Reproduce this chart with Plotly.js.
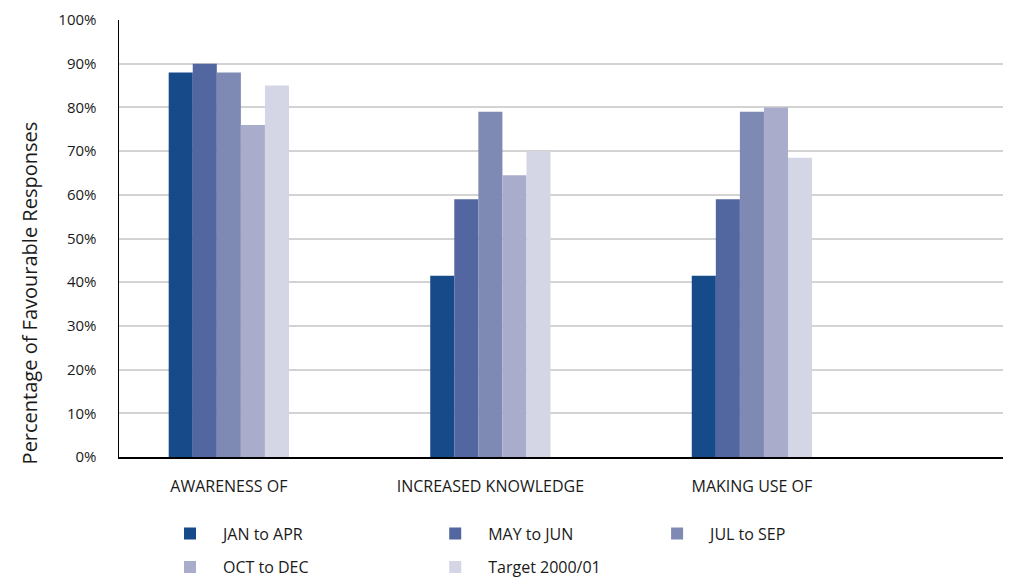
<!DOCTYPE html>
<html>
<head>
<meta charset="utf-8">
<script src="https://cdn.plot.ly/plotly-3.0.1.min.js"></script>
<style>html,body{margin:0;padding:0;background:#fff;}#chart{width:1015px;height:580px;}</style>
</head>
<body>
<div id="chart"></div>
<script>
const categories = ["AWARENESS OF", "INCREASED KNOWLEDGE", "MAKING USE OF"];
const seriesNames = ["JAN to APR", "MAY to JUN", "JUL to SEP", "OCT to DEC", "Target 2000/01"];
const janApr = [88, 41.5, 41.5];
const mayJun = [90, 59, 59];
const julSep = [88, 79, 79];
const octDec = [76, 64.5, 80];
const target = [85, 70, 68.5];
const yTickVals = [0, 10, 20, 30, 40, 50, 60, 70, 80, 90, 100];
const yTickText = ["0%", "10%", "20%", "30%", "40%", "50%", "60%", "70%", "80%", "90%", "100%"];
const yTitle = "Percentage of Favourable Responses";

const seriesValues = [janApr, mayJun, julSep, octDec, target];
const colors = ["#174a88", "#52669f", "#7f8ab4", "#a9adcb", "#d4d6e6"];
const legendIds = ["legend", "legend2", "legend3", "legend4", "legend5"];
const xIdx = categories.map((c, i) => i);

const traces = seriesValues.map((vals, k) => ({
  type: "bar",
  name: seriesNames[k],
  x: xIdx,
  y: vals,
  marker: {color: colors[k], line: {width: 0}},
  legend: legendIds[k],
  hoverinfo: "name+y"
}));

const font = {family: "Open Sans, sans-serif", color: "#1a1a1a"};
const legendBase = {
  orientation: "h", xanchor: "left", yanchor: "middle",
  bgcolor: "rgba(0,0,0,0)", itemwidth: 56,
  font: {family: font.family, size: 16, color: "#1a1a1a"}
};
// legend positions in paper coords
const legPos = [[0.043, -0.175], [0.343, -0.175], [0.594, -0.175], [0.043, -0.252], [0.343, -0.252]];
const layout = {
  width: 1015, height: 580,
  margin: {l: 119, r: 12, t: 20, b: 123, autoexpand: false},
  paper_bgcolor: "#fff", plot_bgcolor: "#fff",
  barmode: "group",
  bargap: 0.54, bargroupgap: 0,
  font: font,
  xaxis: {
    range: [-0.42, 2.96],
    tickvals: xIdx, ticktext: categories,
    showline: true, linecolor: "#000", linewidth: 1.5,
    showgrid: false, zeroline: false,
    ticks: "", ticklabelstandoff: 14,
    tickfont: {family: font.family, size: 16, color: "#1a1a1a"}
  },
  yaxis: {
    range: [0, 100],
    tickvals: yTickVals, ticktext: yTickText,
    showline: true, linecolor: "#000", linewidth: 1.5,
    showgrid: true, gridcolor: "#d3d3d3", gridwidth: 2,
    zeroline: false,
    ticks: "", ticklabelstandoff: 18,
    tickfont: {family: font.family, size: 15, color: "#1a1a1a"}
  },
  annotations: [{
    text: yTitle, xref: "paper", yref: "paper",
    x: -0.101, y: 0.376, xanchor: "center", yanchor: "middle",
    textangle: -90, showarrow: false,
    font: {family: font.family, size: 20, color: "#1a1a1a"}
  }],
  showlegend: true
};
legendIds.forEach((id, k) => {
  layout[id] = Object.assign({}, legendBase, {x: legPos[k][0], y: legPos[k][1]});
});

Plotly.newPlot("chart", traces, layout, {displayModeBar: false, staticPlot: true});
</script>
</body>
</html>
